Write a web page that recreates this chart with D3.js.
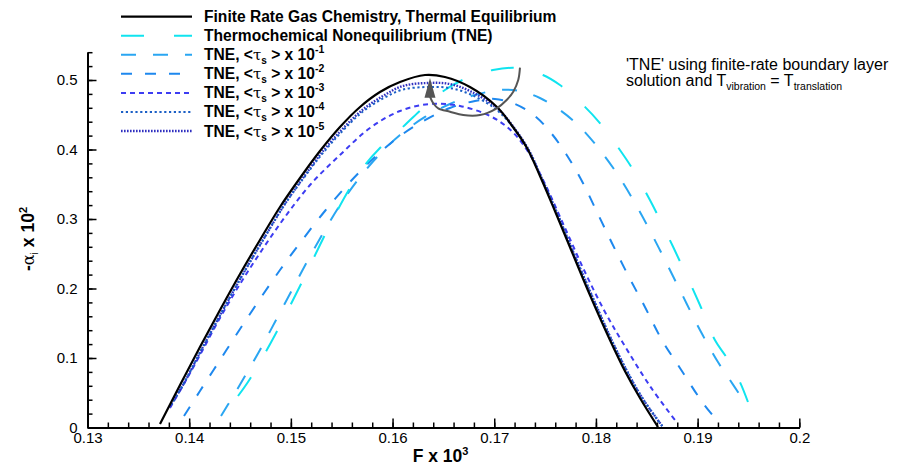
<!DOCTYPE html>
<html><head><meta charset="utf-8">
<script src="https://cdn.jsdelivr.net/npm/d3@7"></script>
<style>
body{margin:0;background:#fff}
svg{display:block}
text{font-family:"Liberation Sans",Arial,Helvetica,sans-serif;fill:#000}
</style>
</head><body>
<svg id="c" width="898" height="468"></svg>
<script>
// ---------- data ----------
const xTicks=[0.13,0.14,0.15,0.16,0.17,0.18,0.19,0.2];
const xTickLabels=["0.13","0.14","0.15","0.16","0.17","0.18","0.19","0.2"];
const yTicks=[0,0.1,0.2,0.3,0.4,0.5];
const yTickLabels=["0","0.1","0.2","0.3","0.4","0.5"];

const F_finite=[0.13713,0.13910,0.14106,0.14303,0.14500,0.14696,0.14893,0.15090,0.15286,0.15483,0.15680,0.15876,0.16073,0.16319,0.16515,0.16761,0.17027,0.17184,0.17322,0.17450,0.17597,0.17744,0.17941,0.18138,0.18285,0.18433,0.18610];
const V_finite=[0.0050,0.0612,0.1158,0.1691,0.2209,0.2698,0.3173,0.3590,0.3978,0.4324,0.4612,0.4827,0.4971,0.5072,0.5043,0.4899,0.4612,0.4324,0.4022,0.3619,0.3115,0.2597,0.1906,0.1259,0.0813,0.0424,0.0007];

const F_tne=[0.14480,0.14578,0.14696,0.14844,0.14991,0.15139,0.15286,0.15434,0.15581,0.15729,0.15876,0.16004,0.16122,0.16299,0.16515,0.16732,0.16987,0.17233,0.17479,0.17646,0.17843,0.18039,0.18236,0.18354,0.18531,0.18708,0.18875,0.19023,0.19170,0.19288,0.19416,0.19495];
const V_tne=[0.0453,0.0655,0.0942,0.1331,0.1748,0.2180,0.2626,0.3058,0.3446,0.3777,0.4022,0.4194,0.4353,0.4597,0.4856,0.5029,0.5144,0.5173,0.5072,0.4928,0.4683,0.4381,0.3993,0.3734,0.3273,0.2755,0.2237,0.1763,0.1259,0.1000,0.0655,0.0367];

const F_tne1=[0.14313,0.14421,0.14549,0.14696,0.14854,0.15011,0.15168,0.15335,0.15503,0.15680,0.15876,0.16073,0.16319,0.16564,0.16810,0.17056,0.17253,0.17449,0.17646,0.17843,0.18039,0.18236,0.18433,0.18629,0.18826,0.19023,0.19200,0.19318,0.19416];
const V_tne1=[0.0165,0.0424,0.0741,0.1115,0.1547,0.1978,0.2410,0.2842,0.3245,0.3604,0.3935,0.4209,0.4468,0.4655,0.4784,0.4856,0.4842,0.4741,0.4568,0.4324,0.3993,0.3590,0.3101,0.2554,0.1978,0.1403,0.0942,0.0683,0.0468];

const F_tne2=[0.13949,0.14106,0.14303,0.14500,0.14696,0.14893,0.15090,0.15335,0.15581,0.15827,0.16073,0.16319,0.16564,0.16810,0.17007,0.17204,0.17400,0.17567,0.17725,0.17872,0.18010,0.18157,0.18315,0.18482,0.18649,0.18826,0.19052,0.19170];
const V_tne2=[0.0165,0.0525,0.0971,0.1417,0.1849,0.2266,0.2655,0.3115,0.3532,0.3892,0.4194,0.4424,0.4597,0.4698,0.4727,0.4655,0.4482,0.4223,0.3892,0.3518,0.3101,0.2655,0.2194,0.1734,0.1259,0.0856,0.0353,0.0137];

const F_tne3=[0.13811,0.13959,0.14106,0.14303,0.14500,0.14716,0.14942,0.15188,0.15483,0.15778,0.16073,0.16368,0.16663,0.16958,0.17155,0.17322,0.17499,0.17696,0.17892,0.18089,0.18266,0.18531,0.18777];
const V_tne3=[0.0281,0.0655,0.1043,0.1576,0.2065,0.2554,0.3029,0.3489,0.3921,0.4309,0.4554,0.4655,0.4626,0.4482,0.4288,0.3993,0.3504,0.2871,0.2237,0.1662,0.1216,0.0597,0.0108];

const F_tne4=[0.13821,0.13939,0.14135,0.14332,0.14529,0.14726,0.14922,0.15119,0.15316,0.15512,0.15709,0.15906,0.16102,0.16348,0.16565,0.16781,0.17037,0.17204,0.17342,0.17469,0.17617,0.17764,0.17961,0.18158,0.18305,0.18462,0.18659];
const V_tne4=[0.0324,0.0612,0.1158,0.1691,0.2209,0.2698,0.3173,0.3576,0.3950,0.4273,0.4547,0.4734,0.4863,0.4899,0.4885,0.4784,0.4554,0.4281,0.3978,0.3576,0.3086,0.2568,0.1892,0.1245,0.0813,0.0410,0.0007];

const F_tne5=[0.13811,0.13939,0.14135,0.14332,0.14529,0.14726,0.14922,0.15119,0.15316,0.15512,0.15709,0.15906,0.16102,0.16348,0.16565,0.16781,0.17037,0.17204,0.17342,0.17469,0.17617,0.17764,0.17961,0.18158,0.18305,0.18462,0.18659];
const V_tne5=[0.0309,0.0612,0.1158,0.1691,0.2209,0.2698,0.3173,0.3590,0.3978,0.4302,0.4576,0.4770,0.4914,0.4957,0.4942,0.4827,0.4583,0.4295,0.3985,0.3580,0.3090,0.2570,0.1895,0.1247,0.0813,0.0410,0.0007];

const legendMain=["Finite Rate Gas Chemistry, Thermal Equilibrium","Thermochemical Nonequilibrium (TNE)"];
const legendExp=["-1","-2","-3","-4","-5"];

// annotation arrow path (data coordinates)
const arrowF=[0.17253,0.17236,0.17187,0.17122,0.17024,0.16860,0.16695,0.16565,0.16449,0.16400,0.16368];
const arrowV=[0.5177,0.5000,0.4832,0.4712,0.4593,0.4496,0.4496,0.4544,0.4593,0.4665,0.4760];
const arrowTipV=0.5029;

// ---------- styles ----------
const colors=["#000000","#10e4ef","#2aa6f2","#1e88ee","#3d3df2","#1b5fc6","#3030c0"];
const dashes=[null,"23,30","15,17","11,13","5,4","2.2,2.6","1.6,1.4"];
const widths=[2.2,2,2,2,2,2,2.4];

const svg=d3.select("#c");
const x=d3.scaleLinear().domain([0.13,0.2]).range([87.5,799.3]);
const y=d3.scaleLinear().domain([0,0.54]).range([427.5,52.2]);

// ---------- axes ----------
const xMinor=d3.range(0,36).map(i=>+(0.13+i*0.002).toFixed(3));
const yMinor=d3.range(0,28).map(i=>+(i*0.02).toFixed(2));

const gxm=svg.append("g").attr("transform",`translate(0,${y(0)})`)
  .call(d3.axisBottom(x).tickValues(xMinor).tickSizeInner(-5).tickSizeOuter(0).tickFormat(""));
const gx=svg.append("g").attr("transform",`translate(0,${y(0)})`)
  .call(d3.axisBottom(x).tickValues(xTicks).tickSizeInner(-9).tickSizeOuter(0).tickPadding(5).tickFormat((d,i)=>xTickLabels[i]));
const gym=svg.append("g").attr("transform",`translate(${x(0.13)},0)`)
  .call(d3.axisLeft(y).tickValues(yMinor).tickSizeInner(-5).tickSizeOuter(0).tickFormat(""));
const gy=svg.append("g").attr("transform",`translate(${x(0.13)},0)`)
  .call(d3.axisLeft(y).tickValues(yTicks).tickSizeInner(-9).tickSizeOuter(0).tickPadding(10).tickFormat((d,i)=>yTickLabels[i]));
[gxm,gx,gym,gy].forEach(g=>{
  g.selectAll("path.domain").attr("stroke","#000").attr("stroke-width",2);
  g.selectAll(".tick line").attr("stroke","#000").attr("stroke-width",1.5);
  g.selectAll("text").attr("font-size",15).attr("font-family","Liberation Sans, Arial, sans-serif").attr("fill","#000");
});

// ---------- curves ----------
const series=[[F_finite,V_finite],[F_tne,V_tne],[F_tne1,V_tne1],[F_tne2,V_tne2],[F_tne3,V_tne3],[F_tne4,V_tne4],[F_tne5,V_tne5]];
const line=d3.line().x(d=>x(d[0])).y(d=>y(d[1])).curve(d3.curveCatmullRom.alpha(0.5));
const drawOrder=[2,3,1,4,6,5,0];
drawOrder.forEach(i=>{
  const [F,V]=series[i];
  svg.append("path").datum(F.map((f,j)=>[f,V[j]]))
    .attr("d",line).attr("fill","none")
    .attr("stroke",colors[i]).attr("stroke-width",widths[i])
    .attr("stroke-dasharray",dashes[i]);
});

// ---------- annotation arrow ----------
const arrowLine=d3.line().x(d=>x(d[0])).y(d=>y(d[1])).curve(d3.curveCatmullRom.alpha(0.5));
svg.append("path").datum(arrowF.map((f,j)=>[f,arrowV[j]]))
  .attr("d",arrowLine).attr("fill","none").attr("stroke","#555").attr("stroke-width",2);
{
  const tx=x(arrowF[arrowF.length-1]), ty=y(arrowTipV), by=y(arrowV[arrowV.length-1]);
  svg.append("path").attr("d",`M${tx},${ty}L${tx-5.5},${by+1}L${tx+5.5},${by+1}Z`).attr("fill","#555");
}

// ---------- legend ----------
const lg=svg.append("g");
const rowY=i=>16.7+i*19.05;
for(let i=0;i<7;i++){
  lg.append("line").attr("x1",121).attr("x2",192).attr("y1",rowY(i)).attr("y2",rowY(i))
    .attr("stroke",colors[i]).attr("stroke-width",widths[i]).attr("stroke-dasharray",dashes[i]);
  const t=lg.append("text").attr("x",204).attr("y",rowY(i)+5.5)
    .attr("font-size",15.6).attr("font-weight","bold");
  if(i<2){ t.text(legendMain[i]); }
  else{
    t.append("tspan").text("TNE, <");
    t.append("tspan").attr("font-weight","normal").attr("font-family","DejaVu Serif, serif").attr("font-size",15).text("τ");
    t.append("tspan").attr("font-size",10).attr("dy",4).text("s");
    t.append("tspan").attr("dy",-4).text(" > x 10");
    t.append("tspan").attr("font-size",10.5).attr("dy",-7).text(legendExp[i-2]);
  }
}

// ---------- annotation text ----------
const at=svg.append("g");
at.append("text").attr("x",626).attr("y",69.5).attr("font-size",16).text("'TNE' using finite-rate boundary layer");
{
  const t=at.append("text").attr("x",626).attr("y",86).attr("font-size",16);
  t.append("tspan").text("solution and T");
  t.append("tspan").attr("font-size",10.5).attr("dy",4).text("vibration");
  t.append("tspan").attr("dy",-4).text(" = T");
  t.append("tspan").attr("font-size",10.5).attr("dy",4).text("translation");
}

// ---------- axis titles ----------
{
  const t=svg.append("text").attr("x",440.5).attr("y",461.5).attr("text-anchor","middle")
    .attr("font-size",17.5).attr("font-weight","bold");
  t.append("tspan").text("F x 10");
  t.append("tspan").attr("font-size",11).attr("dy",-7).text("3");
}
{
  const t=svg.append("text").attr("transform","translate(34,239) rotate(-90)").attr("text-anchor","middle")
    .attr("font-size",17.5).attr("font-weight","bold");
  t.append("tspan").text("-");
  t.append("tspan").attr("font-weight","normal").attr("font-family","DejaVu Serif, serif").attr("font-size",16).text("α");
  t.append("tspan").attr("font-size",10.5).attr("dy",4).attr("font-weight","normal").text("i");
  t.append("tspan").attr("dy",-4).text(" x 10");
  t.append("tspan").attr("font-size",11).attr("dy",-7).text("2");
}
</script>
</body></html>
